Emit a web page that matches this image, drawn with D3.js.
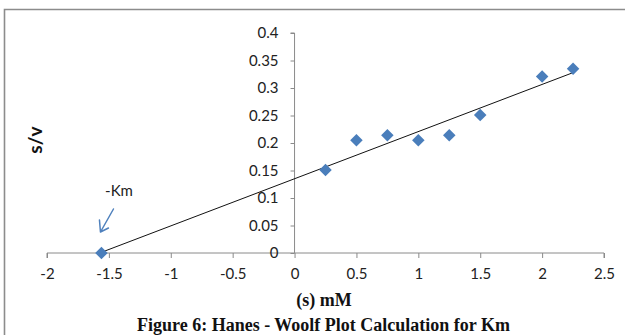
<!DOCTYPE html>
<html><head><meta charset="utf-8">
<script src="https://cdn.jsdelivr.net/npm/d3@7"></script>
<style>body{margin:0;background:#fff}svg{display:block}</style>
</head><body>
<svg id="c" width="625" height="335"></svg>
<script>
const xValues = [-1.56, 0.25, 0.5, 0.75, 1.0, 1.25, 1.5, 2.0, 2.25];
const yValues = [0, 0.151, 0.205, 0.214, 0.205, 0.214, 0.251, 0.321, 0.335];
const xTicks = [-2, -1.5, -1, -0.5, 0, 0.5, 1, 1.5, 2, 2.5];
const yTicks = [0, 0.05, 0.1, 0.15, 0.2, 0.25, 0.3, 0.35, 0.4];
const xTitle = "(s) mM";
const yTitle = "s/v";
const caption = "Figure 6: Hanes - Woolf Plot Calculation for Km";
const annotation = "-Km";

const svg = d3.select("#c");
const x = d3.scaleLinear().domain([-2, 2.5]).range([47, 604]);
const y = d3.scaleLinear().domain([0, 0.4]).range([253, 33]);
const axisColor = "#8a8a8a";
const fmt = d => String(d);

// outer chart border (left and top visible)
svg.append("path").attr("d", "M4.5,340 V9.5 H630")
  .attr("fill", "none").attr("stroke", "#8c8c8c").attr("stroke-width", 1.6);

const gx = svg.append("g").attr("transform", `translate(0,${y(0)})`)
  .call(d3.axisBottom(x).tickValues(xTicks).tickSize(5).tickPadding(10).tickFormat(fmt));
const gy = svg.append("g").attr("transform", `translate(${x(0)},0)`)
  .call(d3.axisLeft(y).tickValues(yTicks).tickSize(4).tickPadding(12).tickFormat(fmt));
[gx, gy].forEach(g => {
  g.select(".domain").attr("stroke", axisColor);
  g.selectAll(".tick line").attr("stroke", axisColor);
  g.selectAll(".tick text").attr("fill", "#222").style("font-family", "Lato, 'Open Sans', sans-serif").style("font-size", "15px");
});
gx.select(".domain").attr("d", `M${x(-2)},5V0H${x(2.5)}V5`);
gy.select(".domain").attr("d", `M-4,${y(0.4)}H0V${y(0)}`);
gx.selectAll(".tick text").attr("dy", "0.71em");

// trendline from linear regression of the data
const pts = xValues.map((v, i) => [v, yValues[i]]);
const mx = d3.mean(xValues), my = d3.mean(yValues);
const sxy = d3.sum(pts, p => (p[0]-mx)*(p[1]-my));
const sxx = d3.sum(pts, p => (p[0]-mx)**2);
const slope = sxy / sxx, icpt = my - slope*mx;
const x0 = d3.min(xValues), x1 = d3.max(xValues);
svg.append("line")
  .attr("x1", x(x0)).attr("y1", y(icpt + slope*x0))
  .attr("x2", x(x1)).attr("y2", y(icpt + slope*x1))
  .attr("stroke", "#111").attr("stroke-width", 1);

const diamond = d3.symbol().type(d3.symbolDiamond2).size(100);
svg.append("g").selectAll("path").data(pts).join("path")
  .attr("d", diamond)
  .attr("transform", d => `translate(${x(d[0])},${y(d[1])})`)
  .attr("fill", "#4a7ebb");

svg.append("text").attr("x", 119).attr("y", 196).attr("text-anchor", "middle")
  .style("font-family", "Lato, 'Open Sans', sans-serif").style("font-size", "15px").attr("fill", "#222")
  .text(annotation);
const ax = x(-1.56), ay = y(0);
svg.append("path")
  .attr("d", `M${ax+12},${ay-44} L${ax-1},${ay-21} M${ax-2},${ay-33} L${ax-1},${ay-21} L${ax+7},${ay-25}`)
  .attr("fill", "none").attr("stroke", "#4f81bd").attr("stroke-width", 1.5)
  .attr("stroke-linecap", "round").attr("stroke-linejoin", "round");

svg.append("text").attr("transform", "translate(42,140) rotate(-90)").attr("text-anchor", "middle")
  .style("font-family", "Lato, 'Open Sans', sans-serif").style("font-size", "19px").style("font-weight", "bold")
  .attr("fill", "#111").text(yTitle);
svg.append("text").attr("x", 324).attr("y", 306).attr("text-anchor", "middle")
  .style("font-family", "'Liberation Serif', 'Times New Roman', serif").style("font-size", "18px").style("font-weight", "bold")
  .attr("fill", "#111").text(xTitle);
svg.append("text").attr("x", 323.5).attr("y", 331).attr("text-anchor", "middle")
  .style("font-family", "'Liberation Serif', 'Times New Roman', serif").style("font-size", "18px").style("font-weight", "bold")
  .attr("fill", "#111").text(caption);
</script>
</body></html>
